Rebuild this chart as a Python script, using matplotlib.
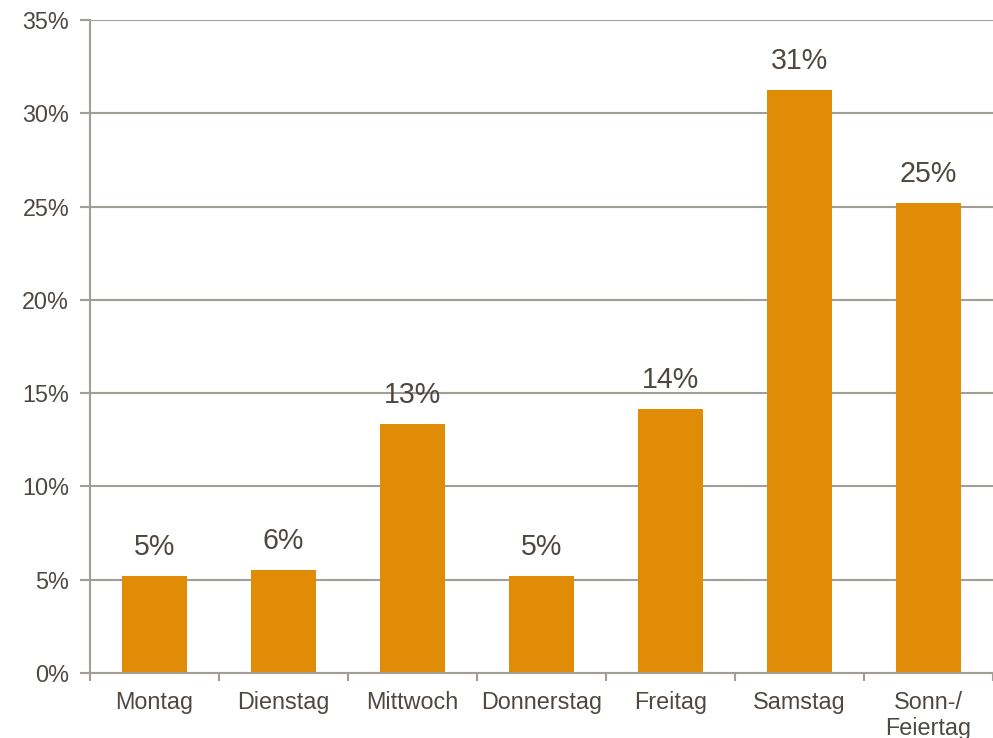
import numpy as np
import matplotlib.pyplot as plt
from matplotlib.ticker import FuncFormatter, FixedLocator

plt.rcParams['font.family'] = ['Liberation Sans', 'DejaVu Sans']

# Anteile nach Wochentag (in %)
tage = ['Montag', 'Dienstag', 'Mittwoch', 'Donnerstag', 'Freitag', 'Samstag', 'Sonn-/\nFeiertag']
anteile = [5.2, 5.52, 13.35, 5.2, 14.15, 31.25, 25.2]

bar_color = '#E08C07'
grid_color = '#A39D98'
text_color = '#4F4842'

fig = plt.figure(figsize=(9.93, 7.38), dpi=100)
ax = fig.add_axes([90/993, 65/738, 903/993, 653/738])

x = np.arange(len(tage))
bars = ax.bar(x, anteile, width=0.5, color=bar_color, zorder=3)

ax.set_xlim(-0.5, len(tage) - 0.5)
ax.set_ylim(0, 35)
ax.set_yticks(np.arange(0, 36, 5))
ax.yaxis.set_major_formatter(FuncFormatter(lambda v, p: f'{v:.0f}%'))
ax.grid(axis='y', color=grid_color, linewidth=1.5, zorder=0)

# Kategorienamen in der Mitte, Teilstriche an den Grenzen
ax.set_xticks(x)
ax.set_xticklabels(tage, linespacing=1.15)
ax.tick_params(axis='x', which='major', length=0, pad=13)
ax.xaxis.set_minor_locator(FixedLocator(np.arange(-0.5, len(tage), 1.0)))
ax.tick_params(axis='x', which='minor', length=6, width=1.5, color=grid_color)
ax.tick_params(axis='y', length=7, width=1.5, color=grid_color, pad=8)
ax.tick_params(labelsize=16.8, labelcolor=text_color)

for s in ['top', 'right']:
    ax.spines[s].set_visible(False)
for s in ['left', 'bottom']:
    ax.spines[s].set_color(grid_color)
    ax.spines[s].set_linewidth(1.5)
    ax.spines[s].set_zorder(4)

# Wertebeschriftungen über den Balken
for xi, v in zip(x, anteile):
    ax.annotate(f'{v:.0f}%', (xi, v), xytext=(0, 11), textcoords='offset points',
                ha='center', va='bottom', fontsize=20.6, color=text_color)

fig.savefig('out.png', dpi=100)
